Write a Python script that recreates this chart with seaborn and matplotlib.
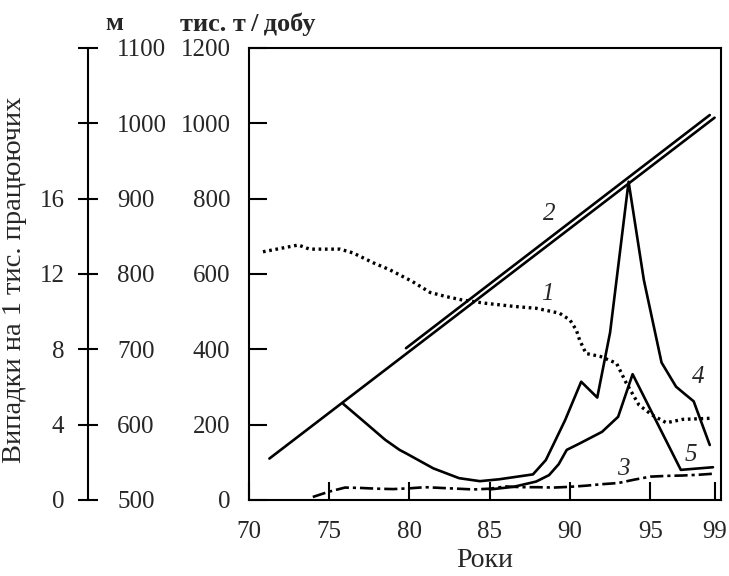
import seaborn as sns
import matplotlib.pyplot as plt

# curve 1 (dotted)
years_1 = [70.9, 72.0, 73.1, 73.8, 75.7, 76.5, 77.75, 78.8, 80.2, 81.3, 82.3, 83.3, 84.8, 86.5, 87.9,
           89.35, 90.0, 90.4, 90.6, 91.0, 91.9, 92.9, 93.5, 94.3, 95.1, 96.0, 97.0, 98.8]
values_1 = [659, 668, 677, 666, 666, 656, 630, 611, 580, 551, 540, 531, 522, 514, 509,
            496, 478, 451, 425, 389, 381, 363, 311, 252, 226, 205, 214, 217]

# curve 2 (double line)
years_2a = [71.3, 99.0]
values_2a = [110, 1015]
years_2b = [79.8, 98.7]
values_2b = [403, 1022]

# curve 3 (dash-dot)
years_3 = [74.0, 75.0, 76.0, 77.0, 78.0, 79.0, 80.0, 81.0, 82.0, 83.0, 84.0, 85.0, 86.0, 87.0,
           88.0, 89.0, 90.0, 91.0, 92.0, 93.0, 94.0, 95.0, 96.0, 97.0, 98.0, 99.0]
values_3 = [8, 22, 33, 32, 30, 29, 31, 34, 32, 30, 28, 30, 36, 34,
            34, 33, 35, 38, 42, 45, 54, 62, 64, 65, 67, 70]

# curve 4
years_4 = [75.9, 77.3, 78.5, 79.4, 79.8, 81.5, 83.1, 84.4, 85.6, 87.7, 88.5, 89.0, 89.7, 90.7,
           91.7, 92.5, 93.65, 94.6, 95.7, 96.6, 97.1, 97.7, 98.7]
values_4 = [255, 204, 160, 133, 124, 84, 58, 50, 55, 68, 106, 150, 212, 314,
            272, 445, 845, 584, 365, 301, 283, 262, 146]

# curve 5
years_5 = [85.0, 86.5, 87.9, 88.7, 89.3, 89.8, 90.6, 92.0, 93.0, 93.9, 96.9, 98.9]
values_5 = [28, 35, 49, 66, 95, 133, 150, 181, 221, 334, 80, 87]

x_ticks = [70, 75, 80, 85, 90, 95, 99]
y_ticks = [0, 200, 400, 600, 800, 1000, 1200]
m_ticks = [500, 600, 700, 800, 900, 1000, 1100]
case_ticks = [0, 4, 8, 12, 16, 20, 24]
case_labels = ['0', '4', '8', '12', '16', '', '']

sns.set_style('ticks')
plt.rcParams['font.family'] = ['Liberation Serif', 'DejaVu Serif']

W, H = 729, 576
fig = plt.figure(figsize=(W / 100, H / 100), dpi=100)
left, right, top, bottom = 248.5, 721, 48, 500
ax = fig.add_axes([left / W, 1 - bottom / H, (right - left) / W, (bottom - top) / H])

lw = 1.9
kw = dict(color='black', lw=lw, legend=False)
sns.lineplot(x=years_1, y=values_1, ax=ax, linestyle=(0, (0.8, 1.1)), lw=2.4, color='black',
             legend=False, dash_capstyle='butt')
sns.lineplot(x=years_2a, y=values_2a, ax=ax, **kw)
sns.lineplot(x=years_2b, y=values_2b, ax=ax, **kw)
sns.lineplot(x=years_3, y=values_3, ax=ax, linestyle=(0, (5, 1.5, 1.2, 1.5)), **kw)
sns.lineplot(x=years_4, y=values_4, ax=ax, **kw)
sns.lineplot(x=years_5, y=values_5, ax=ax, **kw)

lab = dict(fontsize=18, style='italic', ha='center', va='center')
ax.text(88.6, 548, '1', **lab)
ax.text(88.7, 760, '2', **lab)
ax.text(93.3, 82, '3', **lab)
ax.text(98.0, 327, '4', **lab)
ax.text(97.5, 119, '5', **lab)

ax.set_xlim(70, 99.4)
ax.set_ylim(0, 1200)
ax.set_xticks(x_ticks)
ax.set_yticks(y_ticks)
ax.tick_params(axis='both', direction='in', length=13, width=1.5, labelsize=18, color='black')
ax.tick_params(axis='x', pad=15)
ax.tick_params(axis='y', pad=13)
for s in ax.spines.values():
    s.set_linewidth(1.5)
    s.set_color('black')
ax.set_xlabel('Роки', fontsize=20, labelpad=4)
ax.set_ylabel('')

# outer axis: cases per 1000 workers and metres
ax_out = fig.add_axes([88 / W, 1 - bottom / H, 1e-4, (bottom - top) / H])
ax_out.set_ylim(0, 24)
ax_out.set_yticks(case_ticks)
ax_out.set_yticklabels(case_labels)
ax_out.set_xticks([])
for name in ['top', 'right', 'bottom']:
    ax_out.spines[name].set_visible(False)
ax_out.spines['left'].set_linewidth(1.5)
ax_out.spines['left'].set_color('black')
ax_out.tick_params(axis='y', direction='inout', length=14, width=1.5, labelsize=18, pad=10,
                   color='black')
ax_out.set_facecolor('none')

ax_m = ax_out.twinx()
ax_m.set_ylim(500, 1100)
ax_m.set_yticks(m_ticks)
ax_m.tick_params(axis='y', length=0, labelsize=18, pad=21)
for s in ax_m.spines.values():
    s.set_visible(False)

fig.text(15 / W, 1 - 280 / H, 'Випадки на 1 тис. працюючих', rotation=90, fontsize=20.5,
         ha='center', va='center')
fig.text(114 / W, 1 - 24 / H, 'м', fontsize=19, fontweight='bold', ha='center', va='center')
fig.text(180 / W, 1 - 24 / H, 'тис. т\u2009/\u2009добу', fontsize=19, fontweight='bold',
         ha='left', va='center')

fig.savefig('out.png', dpi=100, facecolor='white')
